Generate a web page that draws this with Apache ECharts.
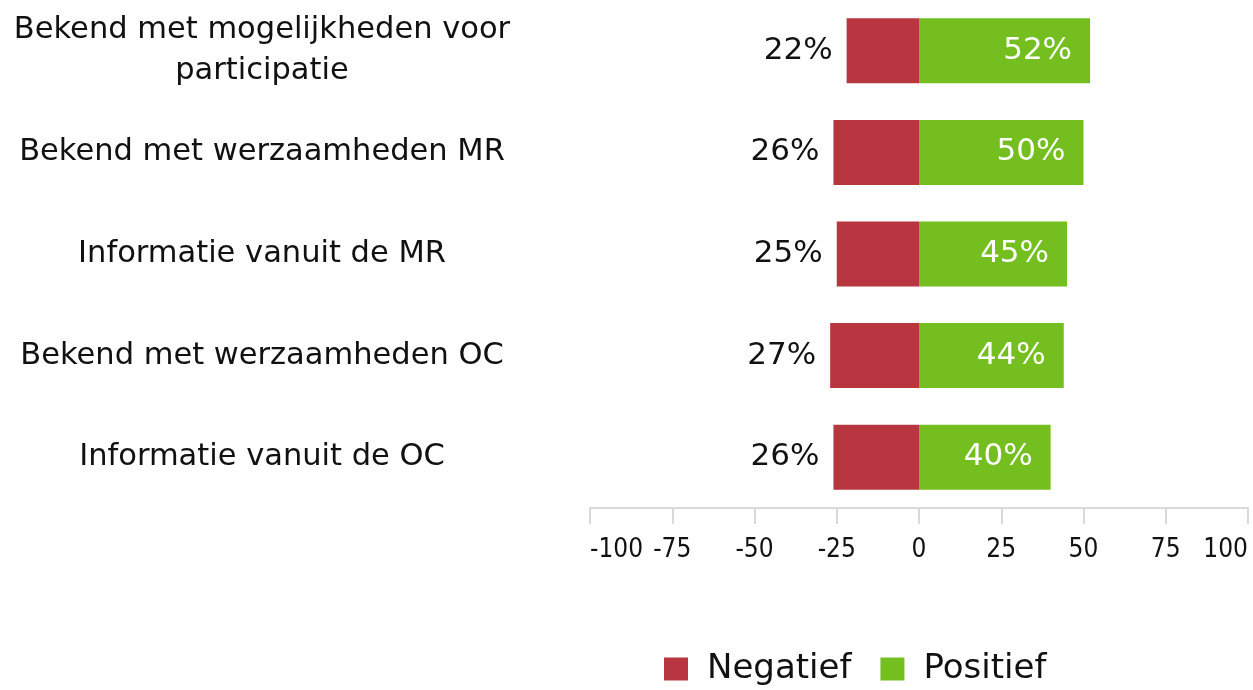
<!DOCTYPE html>
<html>
<head>
<meta charset="utf-8">
<script src="https://cdn.jsdelivr.net/npm/echarts@6/dist/echarts.min.js"></script>
<style>
  html, body { margin: 0; padding: 0; background: #fff; }
  #chart { width: 1253px; height: 690px; }
</style>
</head>
<body>
<div id="chart"></div>
<script>
const categories = [
  'Bekend met mogelijkheden voor\nparticipatie',
  'Bekend met werzaamheden MR',
  'Informatie vanuit de MR',
  'Bekend met werzaamheden OC',
  'Informatie vanuit de OC'
];
const negatief = [-22, -26, -25, -27, -26];
const positief = [52, 50, 45, 44, 40];
const xTicks = [-100, -75, -50, -25, 0, 25, 50, 75, 100];

const chart = echarts.init(document.getElementById('chart'));
const font = 'DejaVu Sans';

chart.setOption({
  animation: false,
  textStyle: { fontFamily: font },
  grid: { left: 590, right: 5, top: 0, bottom: 182, containLabel: false },
  legend: {
    top: 647,
    left: 659,
    itemWidth: 24,
    itemHeight: 23,
    itemGap: 29,
    icon: 'rect',
    textStyle: { fontSize: 34, color: '#111', fontFamily: font, padding: [0, 0, 0, 14] },
    data: ['Negatief', 'Positief']
  },
  xAxis: {
    type: 'value',
    min: xTicks[0],
    max: xTicks[xTicks.length - 1],
    interval: 25,
    splitLine: { show: false },
    axisLine: { show: true, lineStyle: { color: '#d9d9d9', width: 2 } },
    axisTick: { show: true, length: 16, lineStyle: { color: '#d9d9d9', width: 2 } },
    axisLabel: {
      fontSize: 26,
      color: '#111',
      margin: 29,
      fontFamily: 'DejaVu Sans Condensed',
      alignMinLabel: 'left',
      alignMaxLabel: 'right'
    }
  },
  yAxis: {
    type: 'category',
    inverse: true,
    data: categories,
    axisLine: { show: false },
    axisTick: { show: false },
    axisLabel: {
      align: 'center',
      margin: 328,
      fontSize: 30.5,
      lineHeight: 41,
      padding: [4, 0, 0, 0],
      color: '#111'
    }
  },
  series: [
    {
      name: 'Negatief',
      type: 'bar',
      stack: 'total',
      barWidth: 65,
      itemStyle: { color: '#b8363f' },
      label: {
        show: true,
        position: 'left',
        distance: 14,
        fontSize: 31,
        color: '#111',
        formatter: p => Math.abs(p.value) + '%'
      },
      data: negatief
    },
    {
      name: 'Positief',
      type: 'bar',
      stack: 'total',
      barWidth: 65,
      itemStyle: { color: '#74be1f' },
      label: {
        show: true,
        position: 'insideRight',
        distance: 18,
        fontSize: 31,
        color: '#fff',
        formatter: p => p.value + '%'
      },
      data: positief
    }
  ]
});
</script>
</body>
</html>
